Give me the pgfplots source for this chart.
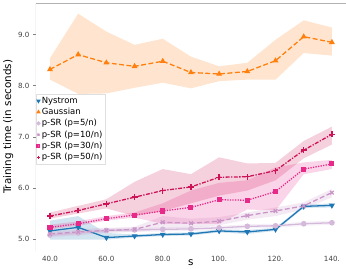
\documentclass[border=0pt]{standalone}
\usepackage{pgfplots}
\pgfplotsset{compat=1.18}
\usepackage{pgfplotstable}
\usepgfplotslibrary{fillbetween}
\usepackage{fontspec}
\setmainfont{DejaVu Sans}
\definecolor{cNys}{HTML}{1F77B4}
\definecolor{cGau}{HTML}{FF7F0E}
\definecolor{cP5}{HTML}{D4B9DA}
\definecolor{cP10}{HTML}{C994C7}
\definecolor{cP30}{HTML}{E7298A}
\definecolor{cP50}{HTML}{CE1256}

\pgfplotstableread{
x y lo hi
40 5.16 4.99 5.36
50 5.23 4.99 5.45
60 5.03 4.99 5.12
70 5.06 5.03 5.09
80 5.09 5.06 5.12
90 5.10 5.07 5.13
100 5.16 5.13 5.19
110 5.14 5.10 5.18
120 5.19 5.16 5.22
130 5.64 5.61 5.67
140 5.66 5.62 5.70
}\tNys
\pgfplotstableread{
x y lo hi
40 8.32 8.12 8.54
50 8.61 7.84 9.41
60 8.45 7.85 9.06
70 8.38 7.96 8.80
80 8.48 8.06 8.92
90 8.26 7.95 8.57
100 8.23 8.09 8.38
110 8.28 8.12 8.45
120 8.49 8.12 8.90
130 8.96 8.64 9.28
140 8.85 8.59 9.14
}\tGau
\pgfplotstableread{
x y lo hi
40 5.08 5.03 5.14
50 5.12 5.07 5.17
60 5.17 5.13 5.21
70 5.18 5.14 5.22
80 5.19 5.15 5.23
90 5.20 5.16 5.24
100 5.22 5.18 5.26
110 5.25 5.21 5.29
120 5.26 5.22 5.30
130 5.30 5.26 5.34
140 5.32 5.28 5.36
}\tPf
\pgfplotstableread{
x y lo hi
40 5.10 5.05 5.15
50 5.14 5.08 5.20
60 5.17 5.12 5.22
70 5.19 5.14 5.24
80 5.33 5.20 5.45
90 5.31 5.22 5.40
100 5.35 5.27 5.43
110 5.46 5.38 5.52
120 5.55 5.45 5.62
130 5.65 5.58 5.72
140 5.91 5.82 5.98
}\tPt
\pgfplotstableread{
x y lo hi
40 5.23 5.19 5.28
50 5.30 5.26 5.35
60 5.40 5.36 5.45
70 5.47 5.42 5.52
80 5.55 5.30 5.70
90 5.62 5.30 5.95
100 5.77 5.30 6.10
110 5.76 5.58 6.15
120 5.93 5.56 6.40
130 6.37 6.27 6.50
140 6.47 6.37 6.55
}\tPth
\pgfplotstableread{
x y lo hi
40 5.45 5.40 5.52
50 5.56 5.50 5.65
60 5.69 5.60 5.78
70 5.82 5.45 6.12
80 5.95 5.55 6.37
90 6.02 5.70 6.27
100 6.21 5.85 6.60
110 6.22 5.95 6.48
120 6.34 6.15 6.49
130 6.74 6.58 6.92
140 7.05 6.85 7.20
}\tPfi

\newcommand{\band}[2]{%
  \addplot[name path=hi#2, draw=none, forget plot] table[x=x,y=hi]{#1};
  \addplot[name path=lo#2, draw=none, forget plot] table[x=x,y=lo]{#1};
  \addplot[fill=#2, fill opacity=0.2, draw=none, forget plot] fill between[of=hi#2 and lo#2];
}

\begin{document}
\begin{tikzpicture}
\begin{axis}[
  scale only axis,
  width=314pt, height=251pt,
  xmin=35, xmax=145, ymin=4.77, ymax=9.62,
  axis line style={draw=none},
  xtick={40,60,80,100,120,140},
  xticklabels={40.0,60.0,80.0,100.,120.,140.},
  ytick={5,6,7,8,9},
  yticklabels={5.0,6.0,7.0,8.0,9.0},
  xtick style={draw=none},
  ytick pos=left,
  tick align=outside,
  ytick style={gray, line width=0.6pt},
  major tick length=3pt,
  ticklabel style={font=\fontsize{7.2}{8}\selectfont, text=black!75},
  /pgf/number format/assume math mode=true,
  xticklabel style={yshift=1pt},
  xlabel={s},
  ylabel={Training time (in seconds)},
  label style={font=\fontsize{10.5}{12}\selectfont},
  xlabel style={yshift=9pt},
  ylabel style={yshift=-2pt},
  legend style={at={(0,0.633)}, anchor=north west, draw=gray!25, fill=white, fill opacity=0.8, text opacity=1,
    font=\fontsize{8.6}{9}\selectfont, inner sep=1pt, row sep=-0.6pt, cells={anchor=west}},
  legend image code/.code={\draw[#1, mark size=1.4pt] plot coordinates {(0.1cm,0cm)};},
  mark size=2.2pt,
]
\draw[gray!60, line width=0.8pt] (rel axis cs:0,0) -- (rel axis cs:0,1) -- (rel axis cs:1,1) -- (rel axis cs:1,0);
\band{\tNys}{cNys}
\band{\tGau}{cGau}
\band{\tPf}{cP5}
\band{\tPt}{cP10}
\band{\tPth}{cP30}
\band{\tPfi}{cP50}
\addplot[cNys, line width=1.3pt, mark=triangle*, mark options={solid, rotate=180}] table[x=x,y=y]{\tNys};
\addlegendentry{Nystrom}
\addplot[cGau, line width=1.3pt, dash pattern=on 5pt off 2.5pt, mark=triangle*, mark options={solid}] table[x=x,y=y]{\tGau};
\addlegendentry{Gaussian}
\addplot[cP5, line width=1.3pt, mark=*, mark options={solid}] table[x=x,y=y]{\tPf};
\addlegendentry{p-SR (p=5/n)}
\addplot[cP10, line width=1.3pt, dash pattern=on 5pt off 2.5pt, mark=x, mark size=2.6pt, mark options={solid, line width=1.3pt}] table[x=x,y=y]{\tPt};
\addlegendentry{p-SR (p=10/n)}
\addplot[cP30, line width=1.3pt, dash pattern=on 1.3pt off 1.3pt, mark=square*, mark size=1.9pt, mark options={solid}] table[x=x,y=y]{\tPth};
\addlegendentry{p-SR (p=30/n)}
\addplot[cP50, line width=1.3pt, dash pattern=on 4pt off 1.5pt on 1.3pt off 1.5pt, mark=+, mark size=3pt, mark options={solid, line width=1.4pt}] table[x=x,y=y]{\tPfi};
\addlegendentry{p-SR (p=50/n)}
\end{axis}
\end{tikzpicture}
\end{document}
